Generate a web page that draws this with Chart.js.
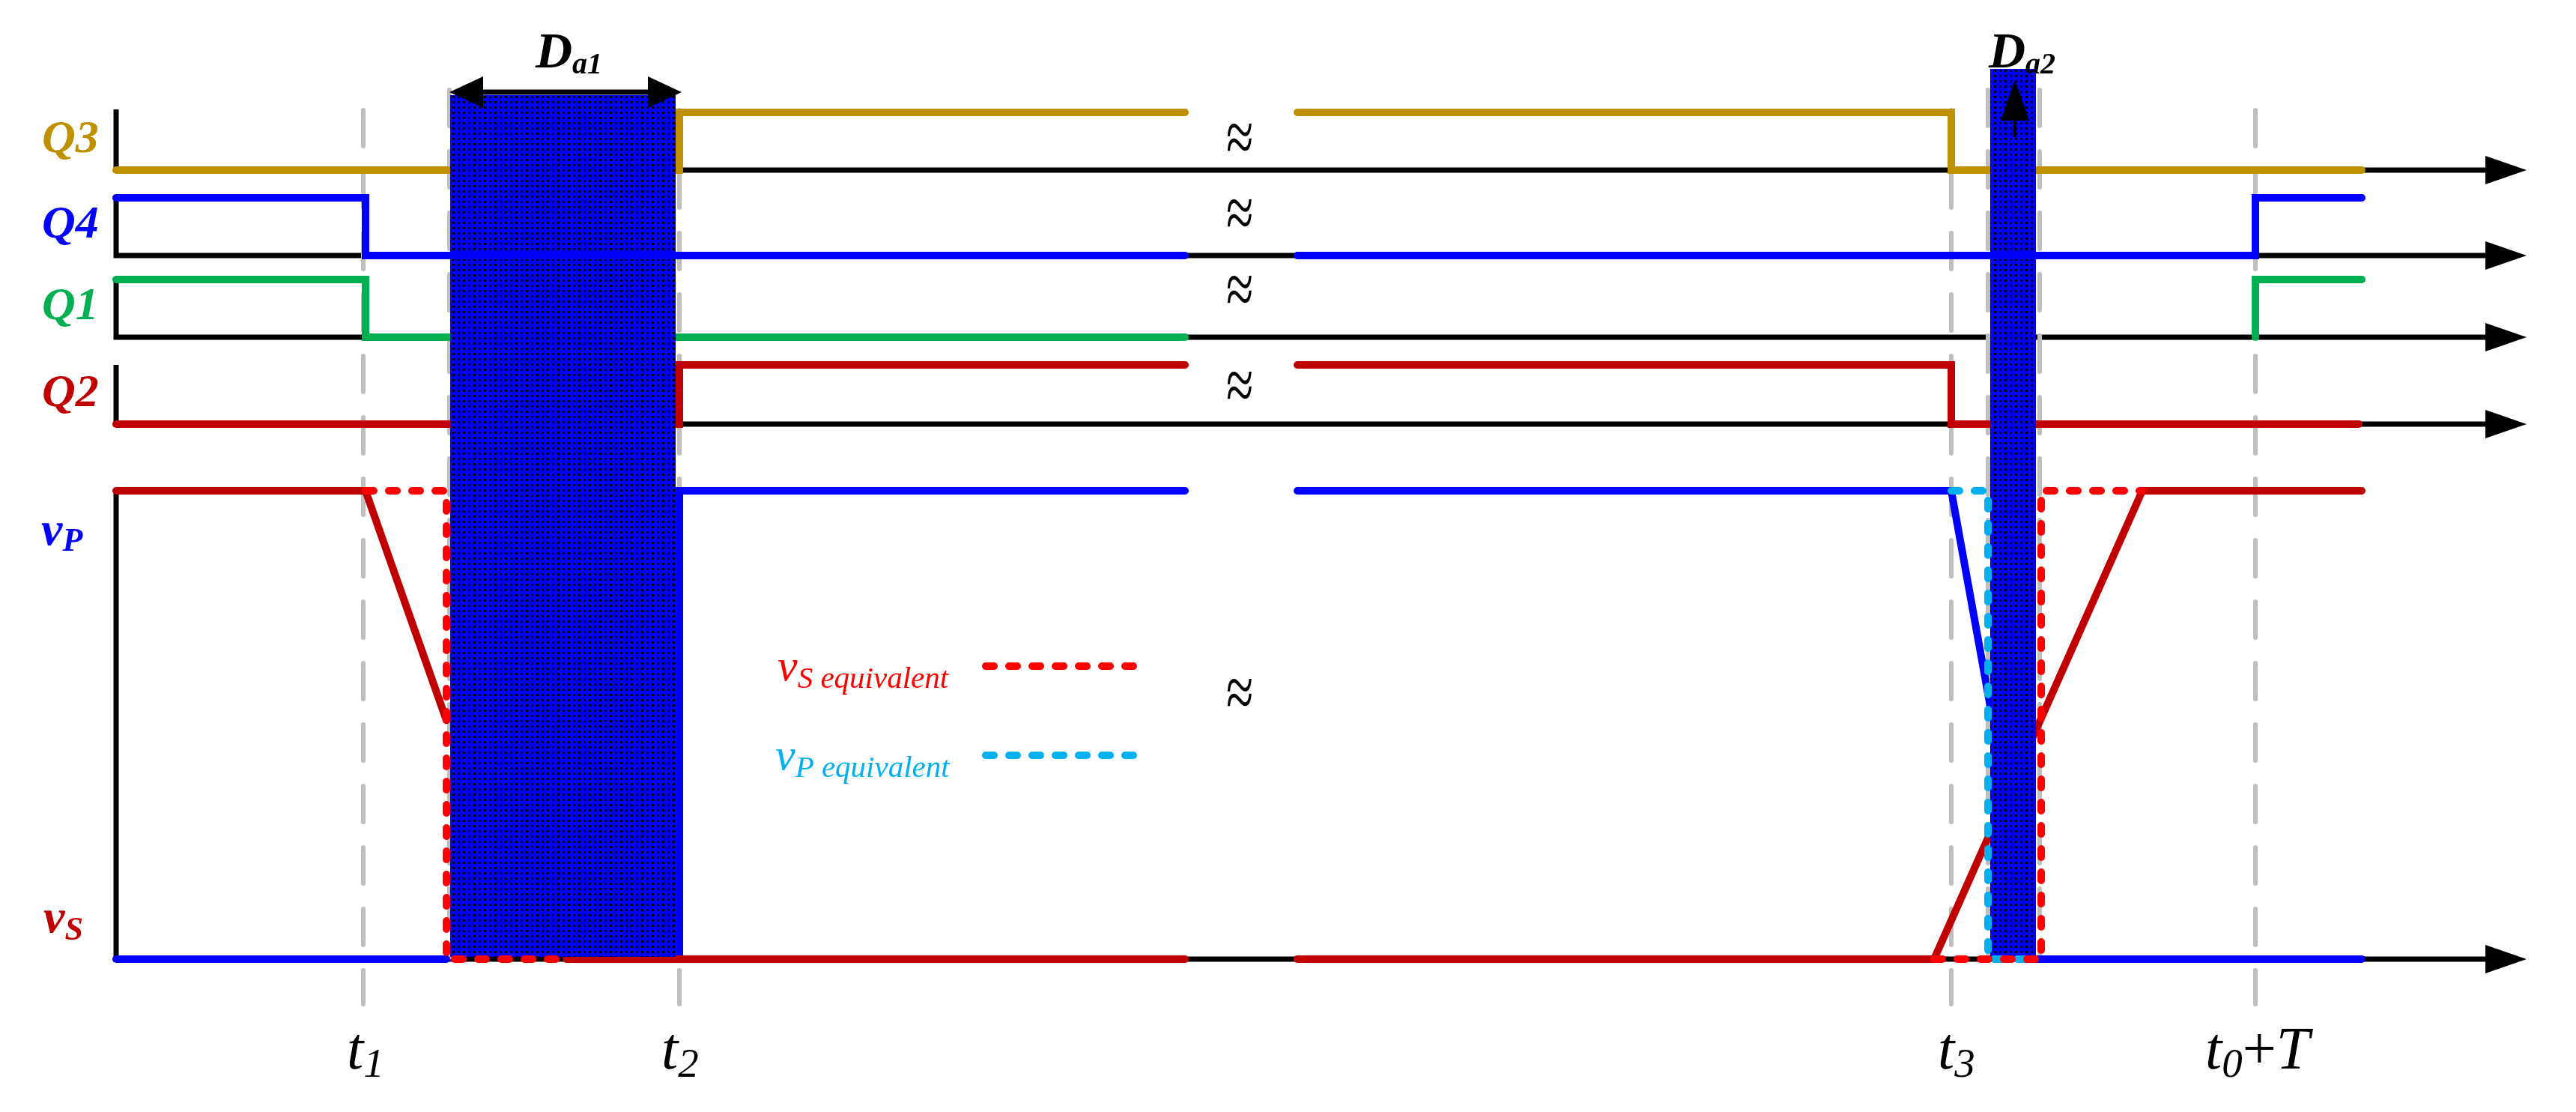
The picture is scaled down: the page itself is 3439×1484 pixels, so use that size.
<!DOCTYPE html>
<html>
<head>
<meta charset="utf-8">
<script src="https://cdn.jsdelivr.net/npm/chart.js@4.4.0/dist/chart.umd.min.js"></script>
<style>
  html, body { margin: 0; padding: 0; background: #fff; }
  #wrap { width: 3439px; height: 1484px; }
</style>
</head>
<body>
<div id="wrap"><canvas id="timing" width="3439" height="1484"></canvas></div>
<script>
// ---- datos (tiempo en unidades arbitrarias, nivel 0/1 por fila) ----
const rowNames = ["Q3", "Q4", "Q1", "Q2"];
const rowColors = ["#BF9000", "#0000FF", "#00B050", "#C00000"];
const rowBase = [105.3, 93.9, 83.0, 71.4];
const rowHigh = [113.0, 101.6, 90.7, 79.3];
const vLow = 0;
const vHigh = 62.5;

const q3Wave = [[0,0],[75.2,0],[75.2,1],[142.7,1],null,[157.7,1],[245.0,1],[245.0,0],[299.8,0]];
const q4Wave = [[0,1],[33.3,1],[33.3,0],[142.7,0],null,[157.7,0],[285.6,0],[285.6,1],[299.8,1]];
const q1Wave = [[0,1],[33.3,1],[33.3,0],[142.7,0],null,[285.6,0],[285.6,1],[299.8,1]];
const q2Wave = [[0,0],[75.2,0],[75.2,1],[142.7,1],null,[157.7,1],[245.0,1],[245.0,0],[299.4,0]];

const vsWave = [[0,1],[33.3,1],[44.1,0.51],null,[60.1,0],[142.7,0],null,[157.7,0],[242.7,0],[270.5,1],[299.8,1]];
const vpWave = [[0,0],[44.1,0],null,[75.2,0],[75.2,1],[142.7,1],null,[157.7,1],[245.0,1],[250.2,0.54],null,[256.3,0],[299.8,0]];
const vsEquiv = [[33.3,1],[44.1,1],[44.1,0],[60.1,0],null,[242.7,0],[257.0,0],[257.0,1],[270.5,1]];
const vpEquiv = [[245.0,1],[249.9,1],[249.9,0],[256.0,0]];

const markTimes = [33.0, 75.2, 245.0, 285.6];
const markLabels = [["t","1"], ["t","2"], ["t","3"], ["t","0","+T"]];
const edgeTimes = [44.5, 249.9, 256.8];
const shadeSpans = [[44.6, 74.7], [250.2, 256.3]];
const shadeTops = [115.3, 118.8];
const axisEnd = 316.3;

// ---- helpers ----
const serif = '"Liberation Serif", "Times New Roman", serif';
const lvl = (w, lo, hi) => w.map(p => p ? { x: p[0], y: lo + p[1] * (hi - lo) } : { x: NaN, y: NaN });

function makeHead(len, half) {
    const c = document.createElement("canvas");
    c.width = len * 2; c.height = half * 2 + 2;
    const g = c.getContext("2d");
    g.fillStyle = "#000";
    g.beginPath();
    g.moveTo(len, 1); g.lineTo(len * 2, half + 1); g.lineTo(len, half * 2 + 1);
    g.closePath(); g.fill();
    return c;
}
const axisHead = makeHead(55, 19);
const dimHead = makeHead(45, 21);

function makePattern() {
    const c = document.createElement("canvas");
    c.width = 7; c.height = 7;
    const g = c.getContext("2d");
    g.fillStyle = "#0000FF"; g.fillRect(0, 0, 7, 7);
    g.fillStyle = "#000"; g.fillRect(2, 2, 3, 3);
    return g.createPattern(c, "repeat");
}
const dotFill = makePattern();

// ejes negros: vertical izquierda + linea base de cada fila
const axisData = [];
rowBase.forEach((b, i) => {
    axisData.push({ x: 0, y: i === 0 ? rowHigh[i] + 0.4 : rowHigh[i] }, { x: 0, y: b }, { x: axisEnd, y: b }, { x: NaN, y: NaN });
});
axisData.push({ x: 0, y: vHigh }, { x: 0, y: vLow }, { x: axisEnd, y: vLow });

const greyData = [];
markTimes.forEach(t => greyData.push({ x: t, y: 113.3 }, { x: t, y: -6.0 }, { x: NaN, y: NaN }));
edgeTimes.forEach(t => greyData.push({ x: t, y: 116.0 }, { x: t, y: 0.2 }, { x: NaN, y: NaN }));

const baseLine = { pointRadius: 0, fill: false, tension: 0, spanGaps: false, borderCapStyle: "round", borderJoinStyle: "miter" };

const datasets = [
    // flechas (arriba de todo)
    { ...baseLine, data: [{x: 49.0, y: 115.7}, {x: 71.0, y: 115.7}], borderColor: "#000", borderWidth: 7, borderCapStyle: "butt",
      pointRadius: 1, pointStyle: dimHead, pointRotation: [180, 0], order: 0 },
    { ...baseLine, data: [{x: 253.5, y: 109.7}, {x: 253.5, y: 111.9}], borderColor: "#000", borderWidth: 4, borderCapStyle: "butt",
      pointRadius: [0, 1], pointStyle: axisHead, pointRotation: -90, order: 0 },
    { ...baseLine, data: rowBase.concat([vLow]).map(b => ({ x: axisEnd, y: b })), showLine: false,
      pointRadius: 1, pointStyle: axisHead, order: 0 },
    // equivalentes punteados
    { ...baseLine, data: lvl(vsEquiv, vLow, vHigh), borderColor: "#FF0000", borderWidth: 10, borderDash: [11, 20], order: 1 },
    { ...baseLine, data: lvl(vpEquiv, vLow, vHigh), borderColor: "#00B0F0", borderWidth: 10, borderDash: [11, 20], order: 1 },
    { ...baseLine, data: [{x: 116.1, y: 39.1}, {x: 136.5, y: 39.1}], borderColor: "#FF0000", borderWidth: 10, borderDash: [11, 20], order: 1 },
    { ...baseLine, data: [{x: 116.1, y: 27.2}, {x: 136.5, y: 27.2}], borderColor: "#00B0F0", borderWidth: 10, borderDash: [11, 20], order: 1 },
    // Q4 pasa por encima del sombreado
    { ...baseLine, data: lvl(q4Wave, rowBase[1], rowHigh[1]), borderColor: rowColors[1], borderWidth: 10, order: 2 },
    // sombreados Da1 / Da2
    ...shadeSpans.map((s, i) => ({ ...baseLine, data: [{x: s[0], y: shadeTops[i]}, {x: s[1], y: shadeTops[i]}],
      borderWidth: 0, borderColor: "rgba(0,0,0,0)", backgroundColor: dotFill, fill: { value: 0.3 }, order: 3 })),
    // senales
    { ...baseLine, data: lvl(q3Wave, rowBase[0], rowHigh[0]), borderColor: rowColors[0], borderWidth: 10, order: 4 },
    { ...baseLine, data: lvl(q1Wave, rowBase[2], rowHigh[2]), borderColor: rowColors[2], borderWidth: 10, order: 4 },
    { ...baseLine, data: lvl(q2Wave, rowBase[3], rowHigh[3]), borderColor: rowColors[3], borderWidth: 10, order: 4 },
    { ...baseLine, data: lvl(vsWave, vLow, vHigh), borderColor: "#C00000", borderWidth: 10, order: 4 },
    { ...baseLine, data: lvl(vpWave, vLow, vHigh), borderColor: "#0000FF", borderWidth: 10, order: 4 },
    // lineas guia grises
    { ...baseLine, data: greyData, borderColor: "#BFBFBF", borderWidth: 6, borderDash: [48, 34], order: 5 },
    // ejes
    { ...baseLine, data: axisData, borderColor: "#000", borderWidth: 7, borderCapStyle: "butt", order: 6 }
];

// ---- textos ----
function subText(ctx, x, y, main, mainFont, sub, subFont, drop) {
    ctx.font = mainFont;
    ctx.fillText(main, x, y);
    x += ctx.measureText(main).width;
    ctx.font = subFont;
    ctx.fillText(sub, x, y + drop);
    return x + ctx.measureText(sub).width;
}

const labelPlugin = {
    id: "labels",
    afterDatasetsDraw(chart) {
        const ctx = chart.ctx;
        const X = v => chart.scales.x.getPixelForValue(v);
        const Y = v => chart.scales.y.getPixelForValue(v);
        ctx.save();
        ctx.textBaseline = "alphabetic";
        ctx.textAlign = "left";

        // Q3 / Q4 / Q1 / Q2
        rowNames.forEach((n, i) => {
            ctx.fillStyle = rowColors[i];
            ctx.font = "italic bold 62px " + serif;
            ctx.fillText(n, X(-9.9), Y(rowBase[i] + 2.4));
        });

        // vP / vS
        ctx.fillStyle = "#0000FF";
        subText(ctx, X(-10.0), Y(55.3), "v", "italic bold 64px " + serif, "P", "italic bold 44px " + serif, 8);
        ctx.fillStyle = "#C00000";
        subText(ctx, X(-9.7), Y(3.6), "v", "italic bold 64px " + serif, "S", "italic bold 44px " + serif, 10);

        // t1, t2, t3, t0+T
        ctx.fillStyle = "#000";
        const markX = [30.8, 72.8, 243.2, 278.9];
        markLabels.forEach((m, i) => {
            const end = subText(ctx, X(markX[i]), Y(-14.6), m[0], "italic 80px " + serif, m[1], "italic 55px " + serif, 11);
            if (m[2]) {
                ctx.font = "80px " + serif;
                ctx.fillText("+", end, Y(-14.6));
                const w = ctx.measureText("+").width;
                ctx.font = "italic 80px " + serif;
                ctx.fillText("T", end + w, Y(-14.6));
            }
        });

        // Da1 / Da2
        subText(ctx, X(56.0), Y(119.0), "D", "italic bold 68px " + serif, "a1", "italic bold 40px " + serif, 8);
        subText(ctx, X(250.0), Y(119.0), "D", "italic bold 68px " + serif, "a2", "italic bold 40px " + serif, 8);

        // leyenda de equivalentes
        ctx.fillStyle = "#FF0000";
        subText(ctx, X(88.3), Y(37.2), "v", "italic 60px " + serif, "S equivalent", "italic 41px " + serif, 10);
        ctx.fillStyle = "#00B0F0";
        subText(ctx, X(88.0), Y(25.3), "v", "italic 60px " + serif, "P equivalent", "italic 41px " + serif, 10);

        // marcas de corte
        ctx.fillStyle = "#000";
        ctx.textAlign = "center";
        ctx.textBaseline = "middle";
        ctx.font = "66px " + serif;
        [109.0, 98.9, 88.7, 75.9, 34.9].forEach(v => {
            ctx.save();
            ctx.translate(X(150.0), Y(v));
            ctx.scale(1, 1.5);
            ctx.fillText("\u2248", 0, 0);
            ctx.restore();
        });
        ctx.restore();
    }
};

new Chart(document.getElementById("timing"), {
    type: "line",
    data: { datasets },
    options: {
        responsive: false,
        animation: false,
        events: [],
        layout: { padding: 0, autoPadding: false },
        plugins: { legend: { display: false }, tooltip: { enabled: false }, filler: { drawTime: "beforeDatasetDraw" } },
        scales: {
            x: { type: "linear", min: -15.5, max: 328.4, display: false },
            y: { type: "linear", min: -20.4, max: 128.0, display: false }
        }
    },
    plugins: [labelPlugin]
});
</script>
</body>
</html>
